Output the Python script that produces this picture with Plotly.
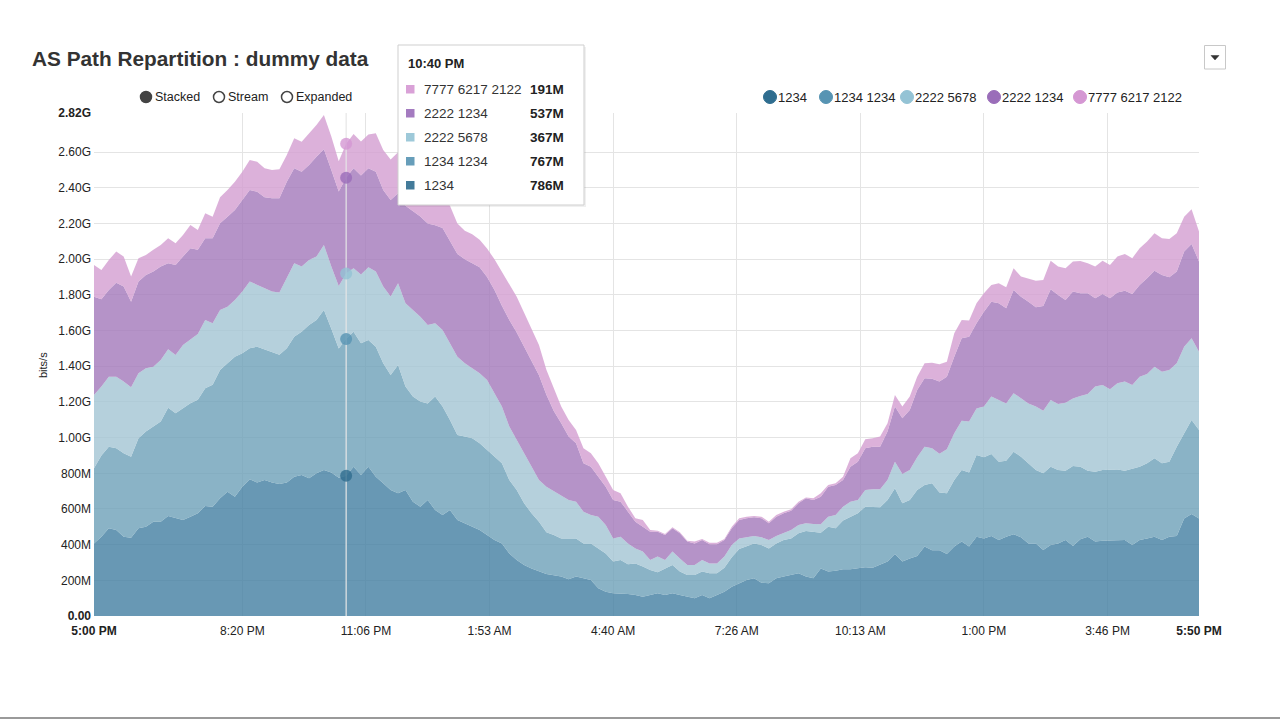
import numpy as np
import pandas as pd
import plotly.graph_objects as go

# ---------------- data ----------------
series_names = ["1234", "1234 1234", "2222 5678", "2222 1234", "7777 6217 2122"]
start_time = "2015-03-01 17:00"
n_points = 150  # one sample every 10 minutes

as_1234 = [
    407, 445, 492, 482, 445, 439, 492, 501, 529, 529,
    561, 548, 538, 557, 576, 617, 613, 660, 697, 669,
    725, 766, 748, 763, 748, 740, 748, 781, 791, 772,
    800, 819, 805, 775, 786, 837, 791, 837, 781, 744,
    706, 688, 706, 641, 613, 650, 594, 566, 594, 538,
    520, 501, 482, 454, 426, 407, 351, 314, 286, 267,
    249, 235, 228, 221, 206, 221, 211, 202, 155, 136,
    127, 127, 123, 118, 108, 118, 127, 118, 127, 118,
    108, 99, 118, 99, 118, 136, 164, 183, 202, 211,
    187, 183, 211, 221, 230, 239, 221, 211, 267, 249,
    254, 262, 262, 267, 273, 271, 286, 305, 348, 305,
    323, 336, 389, 368, 368, 348, 389, 417, 389, 445,
    435, 449, 426, 445, 458, 441, 407, 407, 370, 398,
    407, 426, 392, 430, 445, 417, 422, 422, 422, 426,
    398, 426, 435, 445, 426, 445, 449, 546, 572, 546,
]
as_1234_1234 = [
    421, 455, 457, 458, 467, 454, 504, 533, 533, 561,
    607, 588, 627, 636, 636, 660, 683, 719, 720, 785,
    748, 735, 762, 732, 734, 724, 753, 785, 803, 860,
    860, 897, 805, 725, 767, 757, 738, 711, 729, 673,
    645, 719, 580, 589, 589, 542, 636, 608, 505, 477,
    486, 495, 486, 477, 467, 449, 412, 392, 346, 309,
    280, 235, 226, 214, 229, 214, 196, 205, 224, 215,
    178, 187, 167, 177, 169, 140, 118, 149, 159, 131,
    122, 131, 131, 140, 121, 134, 166, 192, 187, 196,
    211, 196, 196, 205, 205, 225, 256, 262, 200, 252,
    238, 273, 295, 309, 340, 338, 323, 345, 368, 327,
    327, 370, 346, 376, 325, 340, 374, 402, 415, 458,
    455, 459, 439, 426, 463, 452, 449, 412, 430, 439,
    412, 389, 449, 407, 370, 392, 397, 397, 400, 389,
    430, 411, 421, 439, 430, 420, 500, 478, 527, 497,
]
as_2222_5678 = [
    411, 386, 393, 402, 402, 389, 365, 355, 336, 345,
    327, 327, 354, 355, 369, 383, 345, 337, 317, 318,
    346, 374, 346, 342, 337, 349, 392, 411, 365, 364,
    355, 364, 350, 350, 367, 355, 386, 407, 421, 430,
    440, 458, 467, 486, 476, 440, 411, 430, 430, 439,
    411, 393, 393, 392, 356, 318, 299, 281, 280, 261,
    234, 255, 246, 243, 215, 206, 178, 159, 178, 159,
    130, 131, 117, 84, 84, 56, 88, 47, 75, 74,
    56, 56, 65, 56, 56, 63, 68, 60, 51, 42,
    43, 47, 42, 41, 47, 46, 43, 43, 47, 56,
    74, 78, 84, 74, 93, 101, 101, 113, 149, 164,
    169, 184, 214, 196, 217, 247, 262, 276, 286, 261,
    284, 322, 346, 321, 328, 327, 336, 355, 351, 374,
    370, 381, 379, 397, 430, 477, 476, 452, 483, 499,
    467, 505, 501, 514, 514, 514, 468, 486, 458, 439,
]
as_2222_1234 = [
    551, 490, 486, 527, 533, 480, 514, 523, 533, 524,
    482, 505, 496, 514, 472, 458, 477, 486, 505, 504,
    513, 514, 523, 510, 523, 529, 542, 533, 532, 533,
    560, 537, 540, 530, 537, 561, 555, 555, 560, 542,
    541, 505, 547, 554, 562, 568, 549, 571, 571, 576,
    583, 588, 594, 577, 579, 566, 598, 603, 598, 593,
    587, 515, 450, 402, 356, 327, 271, 271, 224, 215,
    215, 196, 178, 150, 140, 159, 140, 140, 131, 141,
    131, 121, 112, 107, 107, 93, 94, 103, 108, 104,
    107, 94, 108, 109, 108, 122, 140, 134, 155, 168,
    169, 150, 196, 215, 234, 239, 239, 271, 309, 312,
    336, 377, 384, 390, 405, 407, 429, 462, 476, 477,
    532, 532, 542, 533, 579, 570, 570, 557, 587, 621,
    611, 576, 599, 575, 564, 495, 510, 510, 508, 510,
    510, 514, 536, 538, 542, 520, 514, 533, 529, 505,
]
as_7777_6217_2122 = [
    178, 164, 168, 174, 168, 141, 131, 112, 122, 121,
    141, 122, 121, 130, 111, 140, 121, 145, 150, 159,
    159, 168, 168, 163, 159, 162, 150, 168, 168, 177,
    178, 192, 188, 170, 191, 192, 190, 190, 215, 224,
    228, 230, 240, 210, 210, 220, 210, 185, 200, 170,
    160, 163, 155, 160, 172, 190, 200, 200, 190, 180,
    170, 140, 130, 94, 93, 75, 84, 75, 75, 56,
    56, 47, 28, 19, 37, 9, 5, 6, 5, 6,
    5, 10, 5, 8, 8, 6, 9, 10, 9, 8,
    9, 9, 9, 9, 8, 9, 5, 10, 19, 10,
    9, 18, 47, 47, 51, 47, 57, 46, 65, 66,
    75, 75, 84, 90, 97, 84, 131, 103, 90, 112,
    103, 94, 112, 118, 121, 113, 131, 149, 146, 160,
    159, 177, 168, 181, 168, 178, 187, 187, 202, 206,
    201, 206, 206, 210, 206, 215, 215, 196, 194, 168,
]
series_values = [as_1234, as_1234_1234, as_2222_5678, as_2222_1234, as_7777_6217_2122]

x_tick_vals = ["2015-03-01 17:00", "2015-03-01 20:20", "2015-03-01 23:06:40",
               "2015-03-02 01:53:20", "2015-03-02 04:40", "2015-03-02 07:26:40",
               "2015-03-02 10:13:20", "2015-03-02 13:00", "2015-03-02 15:46:40",
               "2015-03-02 17:50"]
x_tick_text = ["<b>5:00 PM</b>", "8:20 PM", "11:06 PM", "1:53 AM", "4:40 AM",
               "7:26 AM", "10:13 AM", "1:00 PM", "3:46 PM", "<b>5:50 PM</b>"]
y_tick_vals = [0, 200, 400, 600, 800, 1000, 1200, 1400, 1600, 1800, 2000,
               2200, 2400, 2600, 2820]
y_tick_text = ["<b>0.00</b>", "200M", "400M", "600M", "800M", "1.00G", "1.20G",
               "1.40G", "1.60G", "1.80G", "2.00G", "2.20G", "2.40G", "2.60G",
               "<b>2.82G</b>"]
y_max = 2820
hover_time = "2015-03-01 22:40"
hover_label = "10:40 PM"

# ---------------- styles ----------------
fill_colors = ["rgba(66,126,161,0.8)", "rgba(109,160,184,0.8)",
               "rgba(163,196,211,0.8)", "rgba(163,120,186,0.8)",
               "rgba(211,158,209,0.8)"]
key_colors = ["#2f6d8f", "#5794b3", "#94c3d5", "#9a6db9", "#d597d3"]
FONT = "Liberation Sans, Arial, Helvetica, sans-serif"

W, H = 1280, 720
L, R, T, B = 94, 81, 113, 104
PW, PH = W - L - R, H - T - B


def px(x):
    return (x - L) / PW


def py(y):
    return (H - B - y) / PH


times = pd.date_range(start_time, periods=n_points, freq="10min")

fig = go.Figure()
for name, vals, fc in zip(series_names, series_values, fill_colors):
    fig.add_trace(go.Scatter(
        x=times, y=vals, name=name, mode="lines", stackgroup="one",
        line=dict(width=0), fillcolor=fc, showlegend=False, hoverinfo="skip"))

# hover guide line and stacked points at the hovered time
hi = int(np.where(times == pd.Timestamp(hover_time))[0][0])
hover_vals = [s[hi] for s in series_values]
cum = np.cumsum(hover_vals)
fig.add_trace(go.Scatter(x=[times[hi], times[hi]], y=[0, y_max], mode="lines",
                         line=dict(color="#e6e6e6", width=1.2),
                         showlegend=False, hoverinfo="skip"))
fig.add_trace(go.Scatter(x=[times[hi]] * 5, y=cum, mode="markers",
                         marker=dict(size=12, color=key_colors, opacity=0.8,
                                     line=dict(width=0)),
                         showlegend=False, hoverinfo="skip"))

shapes = []
annotations = []

# title
annotations.append(dict(x=px(30), y=py(58), xref="paper", yref="paper",
                        xanchor="left", yanchor="middle", showarrow=False,
                        text="<b>AS Path Repartition : dummy data</b>",
                        font=dict(family=FONT, size=20.8, color="#333333")))

# y axis title
annotations.append(dict(x=px(43), y=py(365), xref="paper", yref="paper",
                        xanchor="center", yanchor="middle", showarrow=False,
                        text="bits/s", textangle=-90,
                        font=dict(family=FONT, size=11, color="#222222")))

# radio controls
radio = [("Stacked", 146, True), ("Stream", 219, False), ("Expanded", 287, False)]
rr = 5.5
for label, cx, on in radio:
    shapes.append(dict(type="circle", xref="paper", yref="paper",
                       x0=px(cx - rr), x1=px(cx + rr), y0=py(97 + rr), y1=py(97 - rr),
                       fillcolor="#444444" if on else "white",
                       line=dict(color="#444444", width=1.5)))
    annotations.append(dict(x=px(cx + 7), y=py(97), xref="paper", yref="paper",
                            xanchor="left", yanchor="middle", showarrow=False,
                            text=label, font=dict(family=FONT, size=12.5, color="#222222")))

# series key (top right)
key_text_x = [778, 834, 915, 1002, 1088]
kr = 6.5
for name, col, tx in zip(series_names, key_colors, key_text_x):
    cx = tx - 8
    shapes.append(dict(type="circle", xref="paper", yref="paper",
                       x0=px(cx - kr), x1=px(cx + kr), y0=py(97 + kr), y1=py(97 - kr),
                       fillcolor=col, line=dict(color=col, width=1)))
    annotations.append(dict(x=px(tx - 2), y=py(97), xref="paper", yref="paper",
                            xanchor="left", yanchor="middle", showarrow=False,
                            text=name, font=dict(family=FONT, size=13, color="#222222")))

# dropdown button
shapes.append(dict(type="rect", xref="paper", yref="paper",
                   x0=px(1204.5), x1=px(1225.5), y0=py(69), y1=py(45.5),
                   fillcolor="white", line=dict(color="#c8c8c8", width=1)))
shapes.append(dict(type="path", xref="paper", yref="paper",
                   path=f"M {px(1211)},{py(55.5)} L {px(1219)},{py(55.5)} L {px(1215)},{py(60)} Z",
                   fillcolor="#333333", line=dict(color="#333333", width=0.5)))

# tooltip box
shapes.append(dict(type="rect", xref="paper", yref="paper",
                   x0=px(400), x1=px(586), y0=py(207), y1=py(47),
                   fillcolor="rgba(0,0,0,0.06)", line=dict(width=0), layer="above"))
shapes.append(dict(type="rect", xref="paper", yref="paper",
                   x0=px(398), x1=px(584), y0=py(205), y1=py(45),
                   fillcolor="white", line=dict(color="#cfcfcf", width=1), layer="above"))
annotations.append(dict(x=px(406), y=py(64), xref="paper", yref="paper",
                        xanchor="left", yanchor="middle", showarrow=False,
                        text=f"<b>{hover_label}</b>",
                        font=dict(family=FONT, size=13, color="#222222")))
row_y = [89, 113, 137, 161, 185]
for k, ry in enumerate(row_y):
    s = 4 - k
    shapes.append(dict(type="rect", xref="paper", yref="paper",
                       x0=px(406), x1=px(414.5), y0=py(ry + 4.5), y1=py(ry - 4),
                       fillcolor=key_colors[s], line=dict(width=0), layer="above",
                       opacity=0.9))
    annotations.append(dict(x=px(422), y=py(ry), xref="paper", yref="paper",
                            xanchor="left", yanchor="middle", showarrow=False,
                            text=series_names[s],
                            font=dict(family=FONT, size=13.5, color="#333333")))
    annotations.append(dict(x=px(528), y=py(ry), xref="paper", yref="paper",
                            xanchor="left", yanchor="middle", showarrow=False,
                            text=f"<b>{hover_vals[s]}M</b>",
                            font=dict(family=FONT, size=13.5, color="#222222")))

# screen bottom edge line
shapes.append(dict(type="line", xref="paper", yref="paper",
                   x0=px(0), x1=px(W), y0=py(718), y1=py(718),
                   line=dict(color="#9a9a9a", width=2)))

fig.update_layout(
    width=W, height=H,
    margin=dict(l=L, r=R, t=T, b=B, pad=0),
    paper_bgcolor="white", plot_bgcolor="white",
    showlegend=False, hovermode=False,
    font=dict(family=FONT, size=12, color="#222222"),
    shapes=shapes, annotations=annotations,
    xaxis=dict(range=[times[0], times[-1]], tickmode="array",
               tickvals=x_tick_vals, ticktext=x_tick_text,
               showgrid=True, gridcolor="#e4e4e4", gridwidth=1,
               zeroline=False, showline=False, ticks="",
               ticklabelstandoff=6,
               tickfont=dict(family=FONT, size=12, color="#222222")),
    yaxis=dict(range=[0, y_max], tickmode="array",
               tickvals=y_tick_vals, ticktext=y_tick_text,
               showgrid=True, gridcolor="#e4e4e4", gridwidth=1,
               zeroline=False, showline=False, ticks="",
               ticklabelstandoff=2,
               tickfont=dict(family=FONT, size=12, color="#222222")),
)

fig.write_html("out.html",
               config={"displayModeBar": False, "staticPlot": True},
               post_script="document.body.style.margin='0';"
                           "document.body.style.overflow='hidden';")
